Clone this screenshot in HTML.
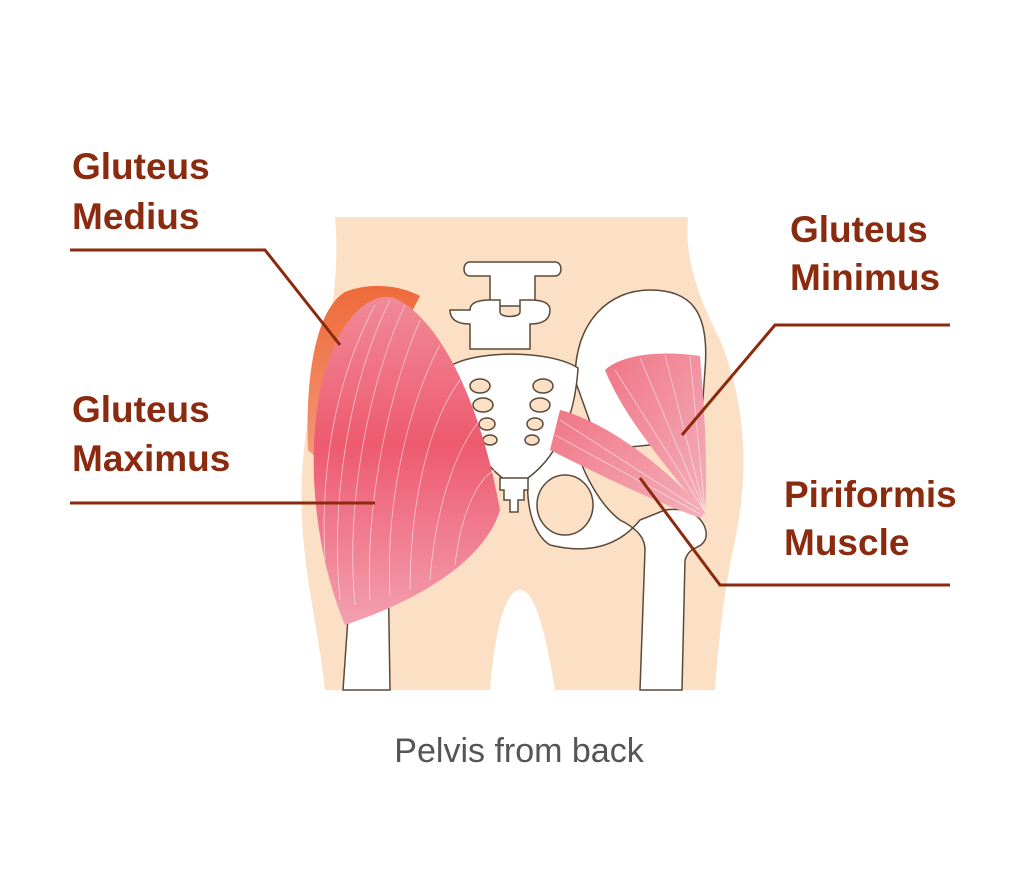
<!DOCTYPE html>
<html><head><meta charset="utf-8"><style>
html,body{margin:0;padding:0;background:#fff;}
svg{display:block}
.l{font-family:"Liberation Sans",sans-serif;font-weight:bold;font-size:37px;fill:#8a2a0e}
</style></head><body>
<svg width="1024" height="896" viewBox="0 0 1024 896" xmlns="http://www.w3.org/2000/svg">
<defs>
<linearGradient id="gm" x1="0" y1="0" x2="0" y2="1">
<stop offset="0" stop-color="#f08a98"/><stop offset="0.45" stop-color="#ee5a6e"/><stop offset="1" stop-color="#f2a0b0"/></linearGradient>
<linearGradient id="go" x1="0" y1="0" x2="0" y2="1">
<stop offset="0" stop-color="#ee6a3a"/><stop offset="1" stop-color="#f49a7a"/></linearGradient>
<linearGradient id="gp" x1="0" y1="0" x2="1" y2="1">
<stop offset="0" stop-color="#f07585"/><stop offset="1" stop-color="#f4b0bc"/></linearGradient>
</defs>
<path d="M335,217 L688,217 C684,260 700,300 720,340 C745,400 750,470 735,540 C722,600 718,650 715,690 L555,690 C545,630 535,590 520,590 C505,590 495,630 490,690 L325,690 C320,640 305,580 302,520 C298,430 320,370 330,320 C336,285 338,250 335,217 Z" fill="#fbe0c6"/>
<path d="M343,690 L352,560 L388,560 L390,690 Z" fill="#fff" stroke="#5a4a3a" stroke-width="1.5"/>
<path d="M575,380 C575,320 610,290 650,290 C690,290 710,310 705,370 L700,440 L600,450 Z" fill="#fff" stroke="#5a4a3a" stroke-width="1.5"/>
<path d="M540,440 C520,470 525,530 550,545 C590,555 620,545 640,520 L665,510 C700,505 710,530 705,540 C700,550 690,545 685,560 L682,690 L640,690 L645,550 C645,540 640,530 620,520 C600,505 580,470 575,440 Z" fill="#fff" stroke="#5a4a3a" stroke-width="1.5"/>
<ellipse cx="565" cy="505" rx="28" ry="30" fill="#fbe0c6" stroke="#5a4a3a" stroke-width="1.5"/>
<path d="M470,262 h85 c8,0 8,14 0,14 h-20 v30 h-45 v-30 h-20 c-8,0 -8,-14 0,-14z" fill="#fff" stroke="#5a4a3a" stroke-width="1.5"/>
<path d="M470,310 c0,-8 10,-10 20,-10 h10 v12 c0,6 20,6 20,0 v-12 h10 c10,0 20,2 20,10 c0,10 -8,14 -20,14 v25 h-60 v-25 c-12,0 -20,-4 -20,-14z" fill="#fff" stroke="#5a4a3a" stroke-width="1.5"/>
<path d="M452,365 C480,350 550,350 578,368 C575,420 555,460 525,480 L505,480 C478,460 455,420 452,365 Z" fill="#fff" stroke="#5a4a3a" stroke-width="1.5"/>
<path d="M500,478 h28 v12 h-4 v10 h-6 v12 h-8 v-12 h-6 v-10 h-4 z" fill="#fff" stroke="#5a4a3a" stroke-width="1.5"/>
<g fill="#fbe0c6" stroke="#5a4a3a" stroke-width="1.5">
<ellipse cx="480" cy="386" rx="10" ry="7"/><ellipse cx="543" cy="386" rx="10" ry="7"/>
<ellipse cx="483" cy="405" rx="10" ry="7"/><ellipse cx="540" cy="405" rx="10" ry="7"/>
<ellipse cx="487" cy="424" rx="8" ry="6"/><ellipse cx="535" cy="424" rx="8" ry="6"/>
<ellipse cx="490" cy="440" rx="7" ry="5"/><ellipse cx="532" cy="440" rx="7" ry="5"/>
</g>
<path d="M308,450 C305,380 315,310 345,292 C370,282 400,285 420,296 L330,470 Z" fill="url(#go)"/>
<path d="M345,625 C318,560 305,470 320,390 C335,320 370,290 395,298 C440,320 480,400 500,510 C485,560 420,600 345,625 Z" fill="url(#gm)"/>
<g stroke="#fff" stroke-width="0.8" fill="none" opacity="0.6">
<path d="M340,600 C330,500 350,380 390,300"/><path d="M355,605 C345,500 370,380 405,305"/>
<path d="M370,600 C365,500 390,390 420,320"/><path d="M390,595 C385,500 410,400 440,345"/>
<path d="M410,590 C410,500 430,420 460,380"/><path d="M430,580 C435,510 455,450 480,420"/>
<path d="M455,565 C460,520 475,480 495,470"/><path d="M325,560 C320,470 335,380 375,305"/>
</g>
<path d="M560,410 C600,420 660,460 705,512 L700,518 C650,500 590,470 550,450 Z" fill="url(#gp)"/>
<path d="M605,370 C620,355 660,350 700,356 C705,420 708,470 705,515 C670,470 625,420 605,370 Z" fill="url(#gp)"/>
<g stroke="#fff" stroke-width="0.8" fill="none" opacity="0.6">
<path d="M615,370 L705,512"/><path d="M640,358 L705,512"/><path d="M665,355 L705,512"/><path d="M690,356 L705,512"/>
<path d="M560,420 L700,510"/><path d="M555,435 L700,514"/>
</g>
<g stroke="#8a2a0e" stroke-width="3" fill="none">
<polyline points="70,250 265,250 340,345"/>
<polyline points="70,503 375,503"/>
<polyline points="950,325 775,325 682,435"/>
<polyline points="950,585 720,585 640,478"/>
</g>
<text class="l" x="72" y="179">Gluteus</text>
<text class="l" x="72" y="229">Medius</text>
<text class="l" x="72" y="422">Gluteus</text>
<text class="l" x="72" y="471">Maximus</text>
<text class="l" x="790" y="242">Gluteus</text>
<text class="l" x="790" y="290">Minimus</text>
<text class="l" x="784" y="507">Piriformis</text>
<text class="l" x="784" y="555">Muscle</text>
<text x="519" y="762" text-anchor="middle" font-family="Liberation Sans,sans-serif" font-size="34" fill="#555">Pelvis from back</text>
</svg>
</body></html>
